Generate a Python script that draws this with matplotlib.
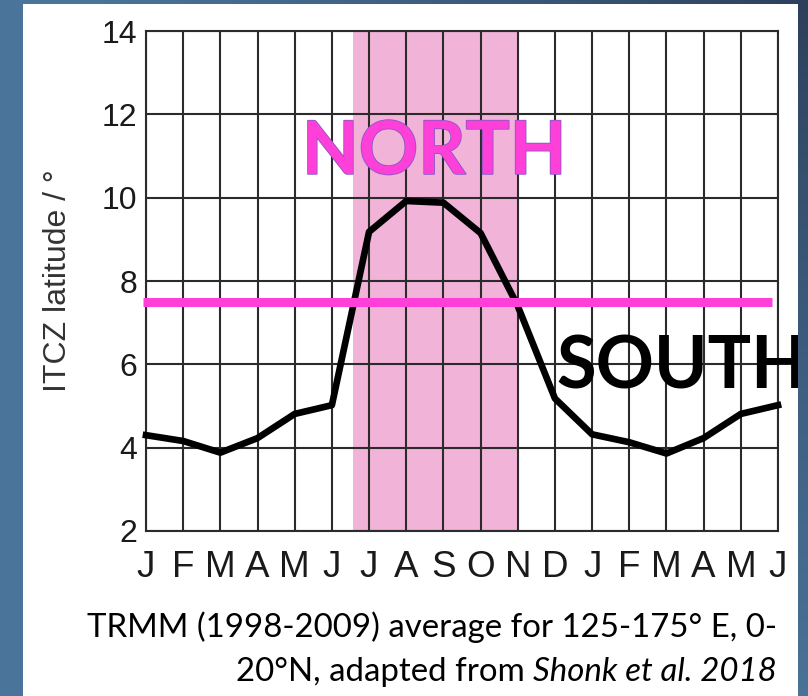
import numpy as np
import matplotlib.pyplot as plt
from matplotlib import patheffects

plt.rcParams['font.family'] = ['Liberation Sans', 'DejaVu Sans']

# monthly ITCZ latitude (two cycles, Jan -> Jun of the following year)
months = list("JFMAMJJASONDJFMAMJ")
lat = [4.30, 4.16, 3.88, 4.23, 4.81, 5.02, 9.18, 9.92, 9.88, 9.15, 7.40, 5.18,
       4.32, 4.13, 3.86, 4.23, 4.81, 5.02]
y_ticks = [2, 4, 6, 8, 10, 12, 14]
shade_start, shade_end = 5.57, 10.0
threshold = 7.5

line1 = "TRMM (1998-2009) average for 125-175° E, 0-"
line2a = "20°N, adapted from "
line2b = "Shonk et al. 2018"

W, H = 808, 696
fig = plt.figure(figsize=(W / 100, H / 100), dpi=100, facecolor='white')

ax = fig.add_axes([146 / W, 1 - 531 / H, (778 - 146) / W, (531 - 31) / H])
x = np.arange(len(months))

ax.axvspan(shade_start, shade_end, color='#f1b3d7', lw=0, zorder=0)
ax.set_xlim(0, len(months) - 1)
ax.set_ylim(2, 14)
ax.set_xticks(x)
ax.set_xticklabels(months)
ax.set_yticks(y_ticks)
ax.set_axisbelow(True)
ax.grid(True, color='#2b2b2b', lw=1.5)
for s in ax.spines.values():
    s.set_color('#2b2b2b')
    s.set_linewidth(1.5)
ax.tick_params(axis='x', length=0, pad=13.5, labelsize=26.5, labelcolor='#1a1a1a')
ax.tick_params(axis='y', length=0, pad=6.5, labelsize=23, labelcolor='#1a1a1a')

ax.plot(x, lat, color='black', lw=4.8, solid_joinstyle='round', zorder=3, clip_on=False)
ax.plot([-0.08, 16.84], [threshold, threshold], color='#ff40d8', lw=6.5,
        solid_capstyle='butt', zorder=4, clip_on=False)

ax.text(7.75, 10.57, 'NORTH', ha='center', va='baseline', fontsize=53,
        fontweight='bold', family='Lato', color='#ff40d8', zorder=5,
        path_effects=[patheffects.withStroke(linewidth=1.2, foreground='#8a55c8')])
ax.text(11.05, 5.43, 'SOUTH', ha='left', va='baseline', fontsize=52,
        fontweight='bold', family='Lato', color='black', zorder=5, clip_on=False)

fig.text(58 / W, 1 - 281 / H, 'ITCZ latitude / °', rotation=90, ha='center',
         va='center', fontsize=23, color='#333333')

# caption, right aligned, width fitted to the reference
fs = 22.5
t1 = fig.text(777 / W, 1 - 637 / H, line1, ha='right', va='baseline',
              family='Lato', fontsize=fs, color='black')
t2b = fig.text(777 / W, 1 - 681 / H, line2b, ha='right', va='baseline',
               family='Lato', style='italic', fontsize=fs, color='black')
fig.canvas.draw()
fs = fs * 691 / t1.get_window_extent().width
t1.set_fontsize(fs)
t2b.set_fontsize(fs)
fig.canvas.draw()
wb = t2b.get_window_extent().width
fig.text((777 - wb) / W, 1 - 681 / H, line2a, ha='right', va='baseline',
         family='Lato', fontsize=fs, color='black')

# slide background around the white panel
yy, xx = np.mgrid[0:H, 0:W]
t = np.clip(np.hypot(W - xx, yy) / 720, 0, 1) ** 0.8
dark = np.array([44, 62, 90]) / 255
light = np.array([74, 116, 153]) / 255
rgb = dark + (light - dark) * t[..., None]
alpha = np.ones((H, W))
alpha[4:, 23:798] = 0
ax_bg = fig.add_axes([0, 0, 1, 1], zorder=10)
ax_bg.imshow(np.dstack([rgb, alpha]), extent=[0, W, H, 0], interpolation='nearest', aspect='auto')
ax_bg.axis('off')

fig.savefig('out.png', dpi=100)
